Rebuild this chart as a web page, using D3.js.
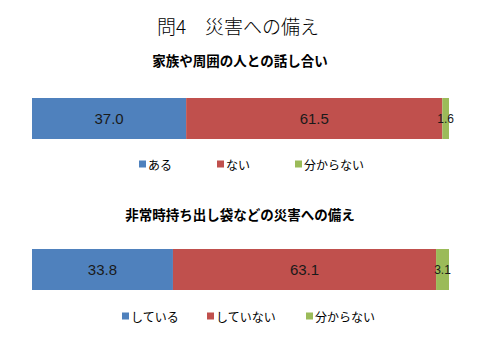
<!DOCTYPE html>
<html><head><meta charset="utf-8">
<script src="https://cdn.jsdelivr.net/npm/d3@7"></script>
<style>body{margin:0;background:#fff}svg{display:block}</style>
</head><body>
<svg id="c" width="480" height="360"></svg>
<script>
const mainTitle = "問4　災害への備え";
const chartTitles = ["家族や周囲の人との話し合い", "非常時持ち出し袋などの災害への備え"];
const categories1 = ["ある", "ない", "分からない"];
const values1 = [37.0, 61.5, 1.6];
const categories2 = ["している", "していない", "分からない"];
const values2 = [33.8, 63.1, 3.1];
const colors = ["#4F81BD", "#C0504D", "#9BBB59"];

const svg = d3.select("#c");
const font = "'Noto Sans CJK JP', sans-serif";

svg.append("text").attr("x", 238).attr("y", 25).attr("text-anchor", "middle")
  .attr("dominant-baseline", "central").attr("font-family", font).attr("font-weight", 300)
  .attr("font-size", 19).attr("fill", "#000").text(mainTitle);

const panels = [
  {title: chartTitles[0], cats: categories1, vals: values1, titleY: 60, barTop: 98, barBottom: 139, legY: 164, legX: [139, 217, 295]},
  {title: chartTitles[1], cats: categories2, vals: values2, titleY: 214, barTop: 249, barBottom: 290, legY: 316, legX: [122, 207, 306]}
];

panels.forEach(p => {
  const total = d3.sum(p.vals);
  const x = d3.scaleLinear().domain([0, total]).range([32, 449]);
  const y = d3.scaleBand().domain(["a"]).range([p.barTop, p.barBottom]).padding(0);
  svg.append("text").attr("x", 240).attr("y", p.titleY).attr("text-anchor", "middle")
    .attr("dominant-baseline", "central").attr("font-family", font).attr("font-weight", 700)
    .attr("font-size", 13.5).attr("fill", "#000").text(p.title);
  let cum = 0;
  const segs = p.vals.map((v, i) => { const s = {v, i, x0: cum, x1: cum + v}; cum += v; return s; });
  const g = svg.append("g");
  g.selectAll("rect").data(segs).join("rect")
    .attr("x", d => x(d.x0)).attr("y", y("a"))
    .attr("width", d => x(d.x1) - x(d.x0)).attr("height", y.bandwidth())
    .attr("fill", d => colors[d.i]);
  g.selectAll("text").data(segs).join("text")
    .attr("x", d => (x(d.x0) + x(d.x1)) / 2).attr("y", y("a") + y.bandwidth() / 2)
    .attr("text-anchor", "middle").attr("dominant-baseline", "central")
    .attr("font-family", "'Liberation Sans', Arial, sans-serif").attr("font-size", d => d.v < 5 ? 12 : 15)
    .attr("fill", "#1a1a1a").text(d => d.v.toFixed(1));
  const lg = svg.append("g");
  p.cats.forEach((c, i) => {
    lg.append("rect").attr("x", p.legX[i]).attr("y", p.legY - 3.5).attr("width", 7).attr("height", 7).attr("fill", colors[i]);
    lg.append("text").attr("x", p.legX[i] + 9).attr("y", p.legY).attr("dominant-baseline", "central")
      .attr("font-family", font).attr("font-size", 12).attr("fill", "#000").text(c);
  });
});
</script>
</body></html>
